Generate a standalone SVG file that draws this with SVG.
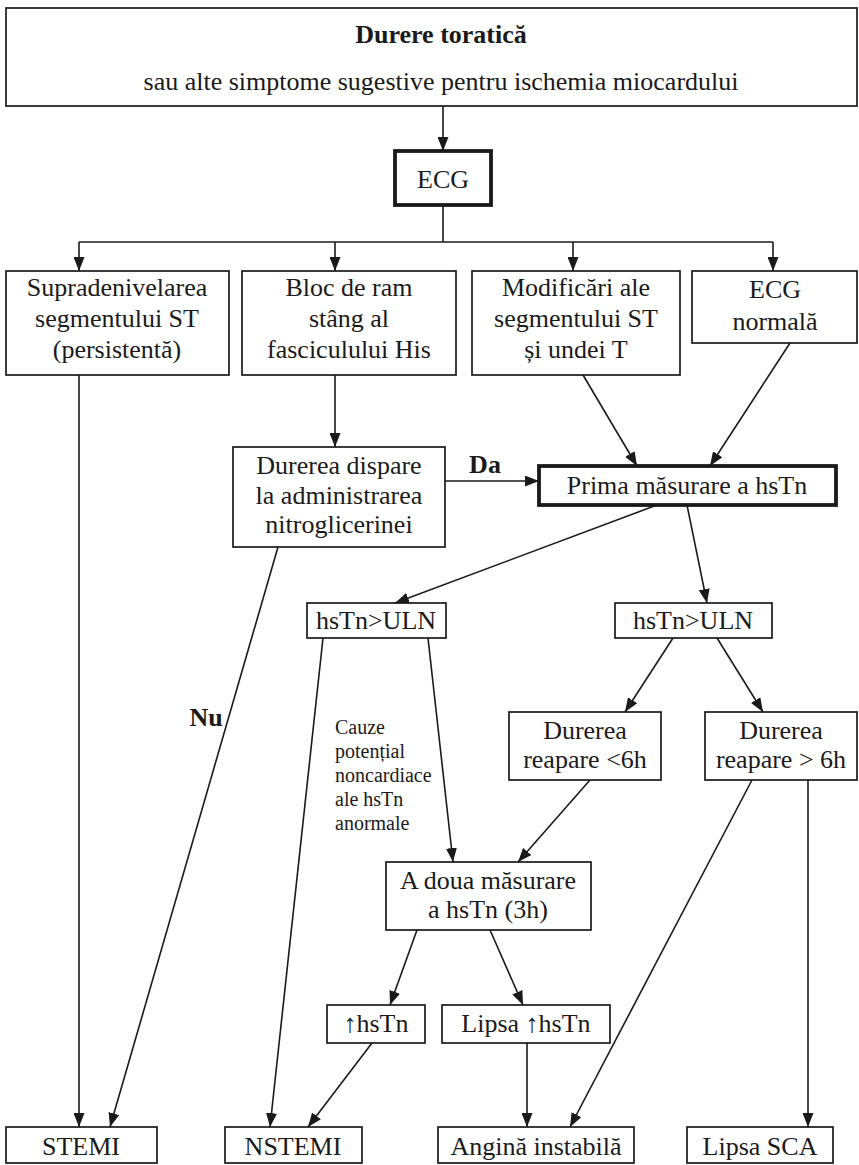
<svg xmlns="http://www.w3.org/2000/svg" width="859" height="1165" viewBox="0 0 859 1165">
<defs>
<marker id="ah" markerUnits="userSpaceOnUse" markerWidth="14" markerHeight="11" refX="14" refY="5.5" orient="auto">
<path d="M0,0 L14,5.5 L0,11 z" fill="#1a1a1a"/>
</marker>
<style>
.b{fill:none;stroke:#1a1a1a;stroke-width:1.7}
.bt{fill:none;stroke:#1a1a1a;stroke-width:3.8}
.t{font-family:"Liberation Serif","Times New Roman",serif;font-size:26px;fill:#1a1a1a;text-anchor:middle}
.s{font-family:"Liberation Serif","Times New Roman",serif;font-size:20px;fill:#1a1a1a}
.bold{font-weight:bold}
.c line{stroke:#1a1a1a;stroke-width:1.6;fill:none}
.a{marker-end:url(#ah)}
</style>
</defs>
<rect width="859" height="1165" fill="#ffffff"/>

<g id="connectors" class="c">
<line class="a" x1="443" y1="106" x2="443" y2="151"/>
<line x1="443" y1="205" x2="443" y2="242"/>
<line x1="79" y1="242" x2="773" y2="242"/>
<line class="a" x1="79" y1="242" x2="79" y2="271"/>
<line class="a" x1="335" y1="242" x2="335" y2="271"/>
<line class="a" x1="573" y1="242" x2="573" y2="271"/>
<line class="a" x1="773" y1="242" x2="773" y2="271"/>
<line class="a" x1="79" y1="375" x2="79" y2="1127"/>
<line class="a" x1="335" y1="375" x2="335" y2="447"/>
<line class="a" x1="583" y1="375" x2="637" y2="466"/>
<line class="a" x1="790" y1="343" x2="710" y2="466"/>
<line class="a" x1="445" y1="481" x2="539" y2="481"/>
<line class="a" x1="278" y1="547" x2="110" y2="1127"/>
<line class="a" x1="657" y1="505" x2="395" y2="603"/>
<line class="a" x1="687" y1="505" x2="707" y2="603"/>
<line class="a" x1="323" y1="638" x2="270" y2="1127"/>
<line class="a" x1="428" y1="638" x2="453" y2="862"/>
<line class="a" x1="673" y1="638" x2="625" y2="712"/>
<line class="a" x1="717" y1="638" x2="763" y2="712"/>
<line class="a" x1="590" y1="780" x2="518" y2="862"/>
<line class="a" x1="752" y1="780" x2="570" y2="1127"/>
<line class="a" x1="808" y1="780" x2="808" y2="1127"/>
<line class="a" x1="417" y1="930" x2="390" y2="1005"/>
<line class="a" x1="490" y1="930" x2="523" y2="1005"/>
<line class="a" x1="372" y1="1043" x2="308" y2="1127"/>
<line class="a" x1="527" y1="1043" x2="527" y2="1127"/>
<text class="t bold" x="485" y="473">Da</text>
<text class="t bold" x="206" y="726">Nu</text>
<text class="s" x="335" y="734">Cauze</text>
<text class="s" x="335" y="758">potențial</text>
<text class="s" x="335" y="782">noncardiace</text>
<text class="s" x="335" y="806">ale hsTn</text>
<text class="s" x="335" y="830">anormale</text>
</g>

<g id="n-start"><rect class="b" x="6" y="8" width="851" height="98"/>
<text class="t bold" x="441" y="43">Durere toratică</text>
<text class="t" x="441" y="90">sau alte simptome sugestive pentru ischemia miocardului</text></g>

<g id="n-ecg"><rect class="bt" x="395" y="151" width="96" height="54"/>
<text class="t" x="443" y="188">ECG</text></g>

<g id="n-st"><rect class="b" x="6" y="271" width="223" height="104"/>
<text class="t" x="117" y="296">Supradenivelarea</text>
<text class="t" x="117" y="327">segmentului ST</text>
<text class="t" x="117" y="358">(persistentă)</text></g>

<g id="n-bloc"><rect class="b" x="242" y="271" width="214" height="104"/>
<text class="t" x="349" y="296">Bloc de ram</text>
<text class="t" x="349" y="327">stâng al</text>
<text class="t" x="349" y="358">fasciculului His</text></g>

<g id="n-mod"><rect class="b" x="472" y="271" width="208" height="104"/>
<text class="t" x="576" y="296">Modificări ale</text>
<text class="t" x="576" y="327">segmentului ST</text>
<text class="t" x="576" y="358">și undei T</text></g>

<g id="n-norm"><rect class="b" x="692" y="271" width="165" height="72"/>
<text class="t" x="775" y="298">ECG</text>
<text class="t" x="775" y="330">normală</text></g>

<g id="n-nitro"><rect class="b" x="233" y="447" width="212" height="100"/>
<text class="t" x="339" y="474">Durerea dispare</text>
<text class="t" x="339" y="504">la administrarea</text>
<text class="t" x="339" y="533">nitroglicerinei</text></g>

<g id="n-prima"><rect class="bt" x="539" y="466" width="297" height="39"/>
<text class="t" x="687" y="494">Prima măsurare a hsTn</text></g>

<g id="n-uln1"><rect class="b" x="307" y="603" width="139" height="35"/>
<text class="t" x="376" y="629">hsTn&gt;ULN</text></g>

<g id="n-uln2"><rect class="b" x="615" y="603" width="157" height="35"/>
<text class="t" x="693" y="629">hsTn&gt;ULN</text></g>

<g id="n-lt6"><rect class="b" x="509" y="712" width="152" height="68"/>
<text class="t" x="585" y="739">Durerea</text>
<text class="t" x="585" y="768">reapare &lt;6h</text></g>

<g id="n-gt6"><rect class="b" x="705" y="712" width="152" height="68"/>
<text class="t" x="781" y="739">Durerea</text>
<text class="t" x="781" y="768">reapare &gt; 6h</text></g>

<g id="n-doua"><rect class="b" x="386" y="862" width="205" height="68"/>
<text class="t" x="488" y="889">A doua măsurare</text>
<text class="t" x="488" y="918">a hsTn (3h)</text></g>

<g id="n-up"><rect class="b" x="327" y="1005" width="98" height="38"/>
<text class="t" x="376" y="1032">↑hsTn</text></g>

<g id="n-noup"><rect class="b" x="442" y="1005" width="168" height="38"/>
<text class="t" x="526" y="1032">Lipsa ↑hsTn</text></g>

<g id="n-stemi"><rect class="b" x="6" y="1127" width="151" height="36"/>
<text class="t" x="81" y="1155">STEMI</text></g>

<g id="n-nstemi"><rect class="b" x="225" y="1127" width="137" height="36"/>
<text class="t" x="293" y="1155">NSTEMI</text></g>

<g id="n-angina"><rect class="b" x="438" y="1127" width="196" height="36"/>
<text class="t" x="536" y="1155">Angină instabilă</text></g>

<g id="n-nosca"><rect class="b" x="687" y="1127" width="146" height="36"/>
<text class="t" x="760" y="1155">Lipsa SCA</text></g>
</svg>
